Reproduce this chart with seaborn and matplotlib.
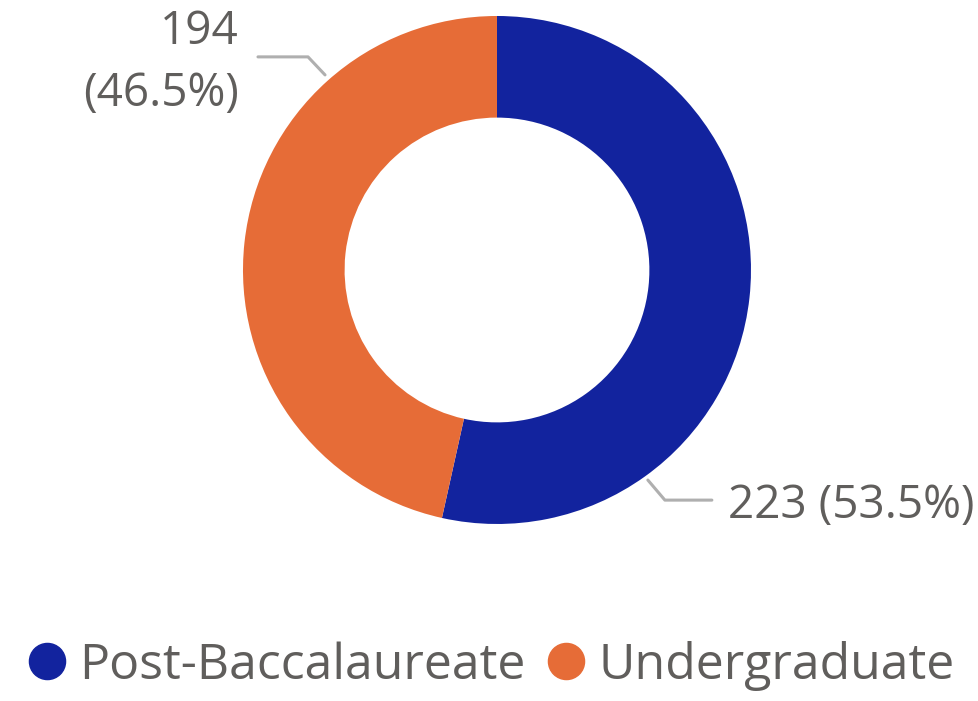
import numpy as np
import matplotlib
matplotlib.use("Agg")
import matplotlib.pyplot as plt
import seaborn as sns
from matplotlib.lines import Line2D

# dados
categorias = ["Post-Baccalaureate", "Undergraduate"]
valores = [223, 194]
cores = ["#12239E", "#E66C37"]

sns.set_theme(style="white")
plt.rcParams["font.family"] = ["Open Sans", "DejaVu Sans"]
cinza_txt = "#605E5C"
cinza_linha = "#AFAFAF"

fig = plt.figure(figsize=(9.79, 7.01), dpi=100)
ax = fig.add_axes([0.2482, 0.2525, 0.5189, 0.7247])

wedges, _ = ax.pie(valores, colors=sns.color_palette(cores), startangle=90,
                   counterclock=False, radius=1.0,
                   wedgeprops=dict(width=0.4, linewidth=0))
ax.set_xlim(-1, 1)
ax.set_ylim(-1, 1)
ax.set_aspect("equal")
ax.axis("off")

total = sum(valores)
rotulos = [f"{v} ({v / total * 100:.1f}%)" for v in valores]

# leader line blue (bottom right)
ax.plot([0.594, 0.661, 0.846], [-0.827, -0.906, -0.906], color=cinza_linha,
        lw=2.2, clip_on=False, solid_capstyle="round")
ax.text(0.909, -0.93, rotulos[0], ha="left", va="center", fontsize=33,
        color=cinza_txt, clip_on=False)

# leader line orange (top left)
ax.plot([-0.677, -0.744, -0.941], [0.768, 0.839, 0.839], color=cinza_linha,
        lw=2.2, clip_on=False, solid_capstyle="round")
ax.text(-1.016, 0.815, rotulos[1].replace(" ", "\n"), ha="right", va="center",
        multialignment="right", fontsize=33, color=cinza_txt, clip_on=False,
        linespacing=1.45)

handles = [Line2D([0], [0], marker="o", color="none", markerfacecolor=c,
                  markeredgecolor=c, markersize=26) for c in cores]
fig.legend(handles, categorias, loc="center", bbox_to_anchor=(0.4985, 0.05),
           ncol=2, frameon=False, fontsize=36, labelcolor=cinza_txt,
           handletextpad=0.15, columnspacing=0.3, handlelength=1.0)

fig.savefig("out.png", dpi=100)
